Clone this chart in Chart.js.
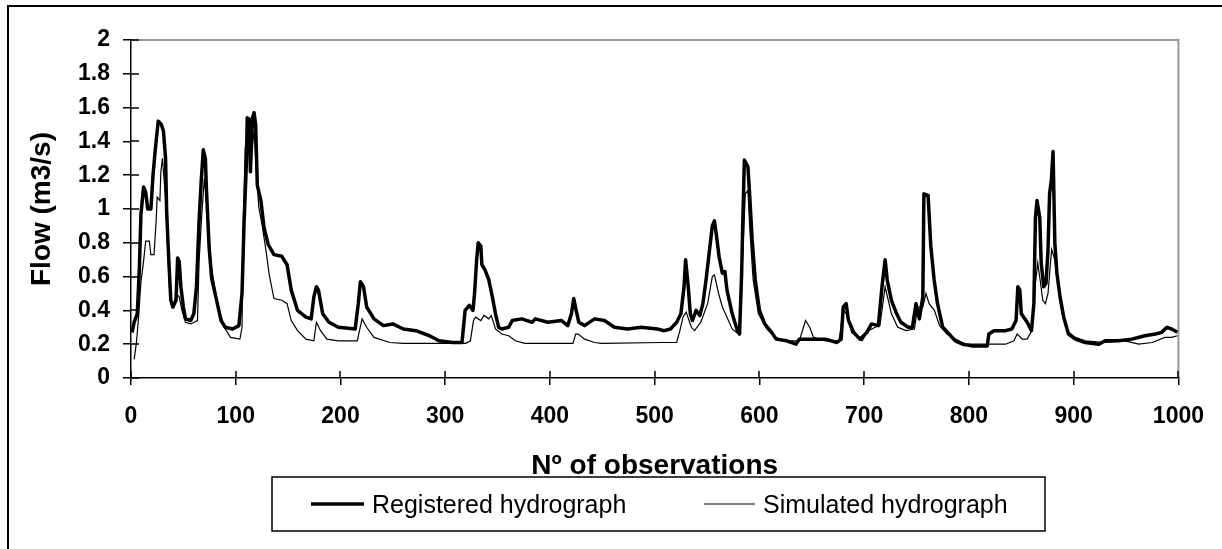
<!DOCTYPE html>
<html>
<head>
<meta charset="utf-8">
<script src="https://cdn.jsdelivr.net/npm/chart.js@4.4.0/dist/chart.umd.min.js"></script>
<style>
  html, body { margin: 0; padding: 0; background: #fff; }
  canvas { display: block; }
</style>
</head>
<body>
<canvas id="flow-chart" width="1222" height="549"></canvas>
<script>
const regObs = [1, 3, 6, 8, 9.5, 12, 14, 16, 19, 21, 23, 26, 29, 31, 33, 34, 36, 38, 40, 43, 44.5, 46, 47.6, 50, 52, 57, 60, 62.5, 65, 67, 69, 71, 72, 74.6, 77, 81, 86, 90, 97,
  103, 106, 108, 110, 111, 113, 114, 116, 117.5, 119, 120.6, 124, 127, 131, 136.5, 144, 149, 153, 159, 167, 172, 174.6, 177, 179, 183, 189, 198,
  214, 217, 219, 222, 225, 232, 241, 250, 260, 272, 285, 294, 307, 316, 319, 323, 326.5, 328, 330, 331.5, 334, 335, 338, 341.6, 345, 348, 351, 354, 360.6, 364, 373, 383, 386, 398,
  411, 417, 420.5, 422.7, 425, 427.5, 433, 442.6, 452, 461.5, 474, 487, 502.5, 509, 515, 521, 525, 528, 529.5, 532, 534, 536, 539.5, 543, 546, 549, 552, 555, 557, 559, 561.4, 564.6, 567, 569, 574, 579, 581, 583, 584, 585.6, 589, 590.6, 593, 596,
  600, 605, 611.6, 616, 626, 635, 638, 647.6, 663, 674, 678, 680, 682.8, 685, 690, 696, 702.5, 707, 713.5, 717, 720, 722, 726, 731, 735, 742, 746, 749.5, 752.7, 756, 757, 761, 763.6, 766.8, 770, 775, 781, 787, 794,
  803, 817.5, 819, 824, 835, 841, 845, 846.7, 848.6, 850, 855.6, 859.7, 862, 863.5, 865, 867.6, 869, 871.4, 873.6, 875.5, 877, 878.7, 880.3, 882, 884, 887, 890.5, 895,
  901.6, 911, 924, 930, 943, 955.5, 968, 978, 984, 989, 993.6, 999];
const regFlow = [0.27, 0.33, 0.38, 0.65, 0.97, 1.13, 1.10, 1.00, 1.00, 1.20, 1.34, 1.52, 1.50, 1.46, 1.30, 0.99, 0.71, 0.46, 0.42, 0.46, 0.71, 0.69, 0.54, 0.42, 0.35, 0.34, 0.38, 0.54, 0.93, 1.16, 1.35, 1.30, 1.12, 0.77, 0.59, 0.48, 0.34, 0.30, 0.29,
  0.31, 0.50, 0.93, 1.24, 1.54, 1.53, 1.22, 1.54, 1.57, 1.50, 1.14, 1.05, 0.89, 0.79, 0.73, 0.72, 0.67, 0.52, 0.40, 0.36, 0.35, 0.48, 0.54, 0.52, 0.38, 0.33, 0.30,
  0.29, 0.44, 0.57, 0.54, 0.42, 0.35, 0.31, 0.32, 0.29, 0.28, 0.25, 0.22, 0.21, 0.21, 0.40, 0.43, 0.40, 0.50, 0.70, 0.80, 0.78, 0.67, 0.64, 0.58, 0.48, 0.38, 0.30, 0.29, 0.30, 0.34, 0.35, 0.33, 0.35, 0.33,
  0.34, 0.31, 0.38, 0.47, 0.40, 0.33, 0.31, 0.35, 0.34, 0.30, 0.29, 0.30, 0.29, 0.28, 0.29, 0.33, 0.38, 0.54, 0.70, 0.54, 0.38, 0.34, 0.40, 0.37, 0.44, 0.58, 0.74, 0.90, 0.93, 0.84, 0.72, 0.62, 0.63, 0.52, 0.38, 0.28, 0.26, 0.62, 0.90, 1.29, 1.25, 1.09, 0.82, 0.58,
  0.40, 0.32, 0.27, 0.23, 0.22, 0.20, 0.23, 0.23, 0.23, 0.21, 0.23, 0.42, 0.44, 0.34, 0.27, 0.23, 0.27, 0.32, 0.31, 0.54, 0.70, 0.58, 0.46, 0.38, 0.33, 0.30, 0.30, 0.44, 0.35, 0.48, 1.09, 1.08, 0.78, 0.58, 0.44, 0.30, 0.26, 0.22, 0.20,
  0.19, 0.19, 0.26, 0.28, 0.28, 0.29, 0.34, 0.54, 0.52, 0.38, 0.33, 0.28, 0.44, 0.95, 1.05, 0.95, 0.68, 0.54, 0.56, 0.76, 1.09, 1.17, 1.34, 0.80, 0.62, 0.48, 0.36, 0.26,
  0.23, 0.21, 0.20, 0.22, 0.22, 0.23, 0.25, 0.26, 0.27, 0.30, 0.29, 0.27];

const simObs = [3, 5, 7, 9.5, 12, 14, 17.5, 19, 22, 24, 25, 27.6, 28.5, 30, 33, 35, 37, 39, 41, 43.5, 46, 48.6, 52, 57, 63.5, 65, 67.6, 70, 72, 74, 77, 82.5, 89, 95,
  104, 106, 107, 109, 111, 114, 117.5, 120, 122, 125, 128.5, 132, 136.5, 144, 149, 153, 159, 167, 174.6, 177, 181, 187, 198,
  216, 220.6, 225, 232, 247, 260, 319.6, 324, 327, 329, 334, 337, 341.6, 344, 348, 354, 360.6, 367, 376,
  422, 424.5, 427, 433, 442.6, 449, 507, 521, 524, 527, 530, 535, 538, 544, 550.5, 555, 557, 561, 564.6, 569, 574, 580, 583, 586.5, 589, 591, 594, 599,
  607, 615, 626, 638, 644, 648, 651.6, 663, 676, 680, 683, 688, 698, 704, 710.5, 715, 720, 723, 726, 732, 740, 748, 751, 756, 759, 762, 767, 772, 779, 787, 797,
  816, 835, 843, 846, 851, 855.6, 860, 863.5, 865.7, 868, 870.5, 873, 875.5, 877.8, 879, 882, 885, 889, 893.7,
  901.6, 911, 930, 949, 962, 975, 987, 993.6, 999];
const simFlow = [0.11, 0.20, 0.34, 0.57, 0.69, 0.81, 0.81, 0.73, 0.73, 0.93, 1.07, 1.05, 1.22, 1.30, 1.06, 0.77, 0.50, 0.42, 0.44, 0.50, 0.48, 0.40, 0.33, 0.32, 0.34, 0.69, 0.97, 1.18, 1.06, 0.87, 0.65, 0.44, 0.30, 0.24,
  0.23, 0.30, 0.87, 1.36, 1.44, 1.28, 1.46, 1.20, 1.01, 0.91, 0.77, 0.61, 0.47, 0.46, 0.44, 0.34, 0.28, 0.23, 0.22, 0.33, 0.28, 0.23, 0.22,
  0.22, 0.35, 0.30, 0.24, 0.21, 0.205, 0.205, 0.22, 0.34, 0.36, 0.34, 0.37, 0.35, 0.37, 0.29, 0.26, 0.25, 0.22, 0.205,
  0.205, 0.26, 0.26, 0.23, 0.21, 0.205, 0.21, 0.21, 0.28, 0.36, 0.39, 0.30, 0.28, 0.33, 0.44, 0.60, 0.61, 0.50, 0.42, 0.36, 0.29, 0.26, 0.58, 1.09, 1.11, 0.86, 0.58, 0.38,
  0.29, 0.24, 0.22, 0.22, 0.34, 0.30, 0.24, 0.22, 0.22, 0.40, 0.38, 0.27, 0.22, 0.28, 0.30, 0.31, 0.54, 0.46, 0.38, 0.30, 0.28, 0.29, 0.42, 0.42, 0.50, 0.44, 0.40, 0.31, 0.26, 0.23, 0.20,
  0.20, 0.20, 0.22, 0.26, 0.23, 0.23, 0.28, 0.56, 0.68, 0.58, 0.46, 0.44, 0.50, 0.68, 0.76, 0.70, 0.54, 0.38, 0.28,
  0.24, 0.22, 0.21, 0.22, 0.20, 0.21, 0.24, 0.24, 0.25];

const seriesNames = ['Registered hydrograph', 'Simulated hydrograph'];
const xTicks = [0, 100, 200, 300, 400, 500, 600, 700, 800, 900, 1000];
const yTicks = [0, 0.2, 0.4, 0.6, 0.8, 1, 1.2, 1.4, 1.6, 1.8, 2];

const FONT = "'Liberation Sans', Arial, sans-serif";
Chart.defaults.font.family = FONT;
Chart.defaults.color = '#000';

const toPoints = (xs, ys) => xs.map((x, i) => ({ x: x, y: ys[i] }));

// outer frame, grey plot border, inner half of the cross ticks, boxed legend
const excelLook = {
    id: 'excelLook',
    beforeDraw(chart) {
        const ctx = chart.ctx;
        const a = chart.chartArea;
        ctx.save();
        ctx.fillStyle = '#fff';
        ctx.fillRect(0, 0, chart.width, chart.height);
        ctx.strokeStyle = '#000';
        ctx.lineWidth = 2;
        ctx.beginPath();
        ctx.moveTo(8, chart.height);
        ctx.lineTo(8, 6);
        ctx.lineTo(chart.width, 6);
        ctx.stroke();
        ctx.strokeStyle = '#999';
        ctx.lineWidth = 2;
        ctx.beginPath();
        ctx.moveTo(a.left, a.top);
        ctx.lineTo(a.right, a.top);
        ctx.lineTo(a.right, a.bottom);
        ctx.stroke();
        ctx.restore();
    },
    afterDraw(chart) {
        const ctx = chart.ctx;
        const a = chart.chartArea;
        const xs = chart.scales.x;
        const ys = chart.scales.y;
        ctx.save();
        ctx.strokeStyle = '#000';
        ctx.lineWidth = 1.5;
        ctx.beginPath();
        yTicks.forEach(v => {
            const py = Math.round(ys.getPixelForValue(v));
            ctx.moveTo(a.left, py);
            ctx.lineTo(a.left + 8, py);
        });
        xTicks.forEach(v => {
            const px = Math.round(xs.getPixelForValue(v));
            ctx.moveTo(px, a.bottom);
            ctx.lineTo(px, a.bottom - 7);
        });
        ctx.stroke();

        // legend box
        ctx.fillStyle = '#fff';
        ctx.fillRect(272, 477, 773, 54);
        ctx.lineWidth = 1.5;
        ctx.strokeRect(272, 477, 773, 54);
        const entries = [
            { x0: 311, x1: 364, tx: 372 },
            { x0: 704, x1: 755, tx: 763 }
        ];
        ctx.font = '25px ' + FONT;
        ctx.textBaseline = 'alphabetic';
        ctx.fillStyle = '#000';
        chart.data.datasets.forEach((ds, i) => {
            const e = entries[i];
            ctx.lineWidth = ds.borderWidth;
            ctx.beginPath();
            ctx.moveTo(e.x0, 504);
            ctx.lineTo(e.x1, 504);
            ctx.stroke();
            ctx.fillText(ds.label, e.tx, 513);
        });
        ctx.restore();
    }
};

new Chart(document.getElementById('flow-chart'), {
    type: 'line',
    data: {
        datasets: [{
            label: seriesNames[0],
            data: toPoints(regObs, regFlow),
            borderColor: '#000',
            borderWidth: 3.5,
            pointRadius: 0,
            tension: 0,
            borderJoinStyle: 'round'
        }, {
            label: seriesNames[1],
            data: toPoints(simObs, simFlow),
            borderColor: '#000',
            borderWidth: 1.2,
            pointRadius: 0,
            tension: 0
        }]
    },
    options: {
        responsive: false,
        animation: false,
        events: [],
        layout: { padding: { left: 25, right: 42, top: 40, bottom: 66 } },
        plugins: { legend: { display: false }, tooltip: { enabled: false } },
        scales: {
            x: {
                type: 'linear',
                min: 0,
                max: 1000,
                afterBuildTicks: s => { s.ticks = xTicks.map(v => ({ value: v })); },
                afterFit: s => { s.height = 105; },
                grid: { drawOnChartArea: false, drawTicks: true, tickLength: 7, color: '#000', lineWidth: 1.5 },
                border: { color: '#000', width: 1.5 },
                ticks: { autoSkip: false, maxRotation: 0, padding: 18, font: { size: 23, weight: 'bold' }, callback: v => String(v) },
                title: { display: true, text: 'Nº of observations', padding: 0, font: { size: 28, weight: 'bold' } }
            },
            y: {
                min: 0,
                max: 2,
                afterBuildTicks: s => { s.ticks = yTicks.map(v => ({ value: v })); },
                afterFit: s => { s.width = 106; },
                grid: { drawOnChartArea: false, drawTicks: true, tickLength: 8, color: '#000', lineWidth: 1.5 },
                border: { color: '#000', width: 1.5 },
                ticks: { padding: 13, font: { size: 23, weight: 'bold' }, callback: v => String(Number(v.toFixed(1))) },
                title: { display: true, text: 'Flow (m3/s)', padding: 0, font: { size: 28, weight: 'bold' } }
            }
        }
    },
    plugins: [excelLook]
});
</script>
</body>
</html>
